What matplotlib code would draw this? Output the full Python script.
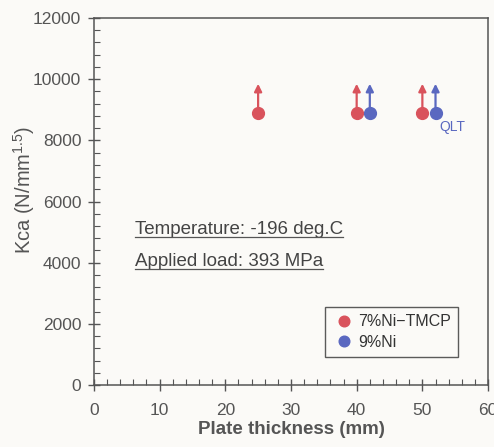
import matplotlib
matplotlib.use("Agg")
import matplotlib.pyplot as plt
from matplotlib.ticker import MultipleLocator
from matplotlib.lines import Line2D

# data (all runs did not fracture -> arrows upward)
tmcp_t = [25, 40, 50]
tmcp_k = [8900, 8900, 8900]
ni9_t = [42, 52]
ni9_k = [8900, 8900]
arrow_len = 950

red = '#d9535c'
blue = '#5a68c0'
gray = '#555555'

plt.rcParams['font.family'] = ['Liberation Sans', 'DejaVu Sans']

fig = plt.figure(figsize=(4.94, 4.47), dpi=100)
fig.patch.set_facecolor('#fbfaf7')
ax = fig.add_axes([0.190, 0.1387, 0.798, 0.821])
ax.set_facecolor('#fbfaf7')

for t, k in zip(tmcp_t, tmcp_k):
    ax.annotate('', xy=(t, k + arrow_len), xytext=(t, k),
                arrowprops=dict(arrowstyle='-|>', color=red, lw=1.6, mutation_scale=11,
                                shrinkA=0, shrinkB=0))
for t, k in zip(ni9_t, ni9_k):
    ax.annotate('', xy=(t, k + arrow_len), xytext=(t, k),
                arrowprops=dict(arrowstyle='-|>', color=blue, lw=1.6, mutation_scale=11,
                                shrinkA=0, shrinkB=0))
ax.plot(tmcp_t, tmcp_k, 'o', color=red, ms=8.5, zorder=5, label='7%Ni\u2212TMCP')
ax.plot(ni9_t, ni9_k, 'o', color=blue, ms=8.5, zorder=5, label='9%Ni')

ax.text(ni9_t[-1] + 0.6, ni9_k[-1] - 450, 'QLT', color=blue, fontsize=10, va='center')

ax.set_xlim(0, 60)
ax.set_ylim(0, 12000)
ax.xaxis.set_major_locator(MultipleLocator(10))
ax.xaxis.set_minor_locator(MultipleLocator(2))
ax.yaxis.set_major_locator(MultipleLocator(2000))
ax.yaxis.set_minor_locator(MultipleLocator(400))
ax.tick_params(which='major', direction='inout', length=8, width=1, color=gray,
               labelsize=12.5, labelcolor=gray, pad=5)
ax.tick_params(axis='x', which='major', pad=9)
ax.tick_params(which='minor', direction='in', length=4, width=0.8, color=gray)
for s in ax.spines.values():
    s.set_color(gray)
    s.set_linewidth(1.1)

ax.set_xlabel('Plate thickness (mm)', fontsize=13.5, fontweight='bold', color=gray)
ax.xaxis.set_label_coords(0.5, -0.097)
ax.set_ylabel(r'Kca (N/mm$^{\mathregular{1.5}}$)', fontsize=14.5, color=gray)
ax.yaxis.set_label_coords(-0.145, 0.531)

notes = ['Temperature: -196 deg.C', 'Applied load: 393 MPa']
txts = []
for i, s in enumerate(notes):
    txts.append(ax.text(0.104, 0.424 - i * 0.087, s, transform=ax.transAxes,
                        fontsize=13.5, color='#444444', va='center'))

leg = ax.legend(loc='lower right', bbox_to_anchor=(0.924, 0.076), borderaxespad=0,
                fontsize=11.5, frameon=True, fancybox=False, edgecolor='#333333',
                handletextpad=0.2, borderpad=0.45, handlelength=1.4, labelspacing=0.35,
                markerscale=0.9)
leg.get_frame().set_linewidth(1.0)
leg.get_frame().set_facecolor('#fbfaf7')
for t in leg.get_texts():
    t.set_color('#333333')

# underline the condition notes
fig.canvas.draw()
inv = fig.transFigure.inverted()
for t in txts:
    bb = t.get_window_extent()
    (x0, y0), (x1, _) = inv.transform([(bb.x0, bb.y0), (bb.x1, bb.y0)])
    fig.add_artist(Line2D([x0, x1], [y0 + 0.002, y0 + 0.002], transform=fig.transFigure,
                          color='#555555', lw=0.9))

fig.savefig('out.png', dpi=100, facecolor=fig.get_facecolor())
